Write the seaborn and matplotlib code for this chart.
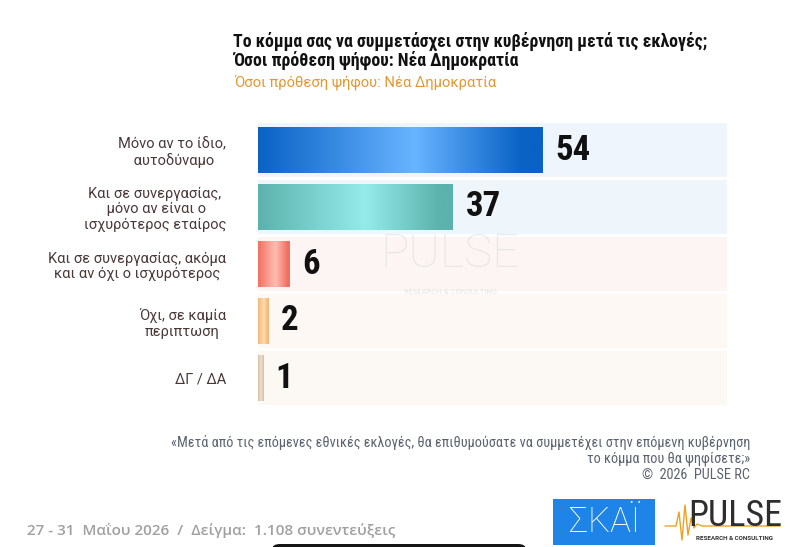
import numpy as np
import pandas as pd
import matplotlib
matplotlib.use("Agg")
import matplotlib.pyplot as plt
import seaborn as sns
from matplotlib import font_manager
from matplotlib.colors import LinearSegmentedColormap
from matplotlib.patches import Rectangle, FancyBboxPatch
from matplotlib.lines import Line2D

# ---------------- data ----------------
categories = [
    "Μόνο αν το ίδιο,\n αυτοδύναμο",
    "Και σε συνεργασίας,\n μόνο αν είναι ο\nισχυρότερος εταίρος",
    "Και σε συνεργασίας, ακόμα\nκαι αν όχι ο ισχυρότερος",
    "Όχι, σε καμία\nπεριπτωση",
    "ΔΓ / ΔΑ",
]
values = [54, 37, 6, 2, 1]
track_value = 89

title_line1 = "Το κόμμα σας να συμμετάσχει στην κυβέρνηση μετά τις εκλογές;"
title_line2 = "Όσοι πρόθεση ψήφου: Νέα Δημοκρατία"
subtitle = "Όσοι πρόθεση ψήφου: Νέα Δημοκρατία"
note_lines = [
    "«Μετά από τις επόμενες εθνικές εκλογές, θα επιθυμούσατε να συμμετέχει στην επόμενη κυβέρνηση",
    "το κόμμα που θα ψηφίσετε;»",
    "©  2026  PULSE RC",
]
footer = "27 - 31  Μαΐου 2026  /  Δείγμα:  1.108 συνεντεύξεις"

# ---------------- styles ----------------
bar_edge_colors = ["#0a62c4", "#5cb2ac", "#f1705f", "#f3b676", "#d4bea6"]
bar_mid_colors = ["#68b4ff", "#95ebea", "#ffbdb3", "#ffdcae", "#efe2d4"]
track_colors = ["#eef5fc", "#eff6fb", "#fdf5f3", "#fdf8f3", "#fcf9f5"]

sns.set_theme(style="white")
available = {f.name for f in font_manager.fontManager.ttflist}


def pick(*names):
    for n in names:
        if n in available:
            return n
    return "DejaVu Sans"


COND = pick("Liberation Sans Narrow", "Roboto Condensed", "Open Sans Condensed", "DejaVu Sans")
REG = pick("Roboto", "Noto Sans", "DejaVu Sans")
OPEN = pick("Open Sans", "Noto Sans", "DejaVu Sans")
plt.rcParams["font.family"] = [REG, "DejaVu Sans"]

W, H = 798, 547
fig = plt.figure(figsize=(W / 100, H / 100), dpi=100, facecolor="white")


def fx(px):
    return px / W


def fy(py):
    return 1 - py / H


ax = fig.add_axes([fx(258), fy(406.5), fx(727) - fx(258), fy(121.5) - fy(406.5)])

df = pd.DataFrame({"cat": categories, "val": values, "track": [track_value] * len(values)})

# background tracks
sns.barplot(data=df, x="track", y="cat", hue="cat", palette=track_colors,
            width=0.95, legend=False, ax=ax, saturation=1, linewidth=0)
n_track = len(ax.patches)
# value bars
sns.barplot(data=df, x="val", y="cat", hue="cat", palette=bar_edge_colors,
            width=0.8, legend=False, ax=ax, saturation=1, linewidth=0)
bar_patches = ax.patches[n_track:]

ax.set_xlim(0, track_value)
ax.set_ylim(len(categories) - 0.5, -0.5)

# gradient fill inside each bar
grad = np.linspace(0, 1, 256)
for p, c0, c1 in zip(bar_patches, bar_edge_colors, bar_mid_colors):
    cmap = LinearSegmentedColormap.from_list(
        "g", [(0, c0), (0.55, c1), (0.93, c0), (1, c0)])
    x0, y0, w, h = p.get_x(), p.get_y(), p.get_width(), p.get_height()
    im = ax.imshow(grad[None, :], cmap=cmap, aspect="auto",
                   extent=(x0, x0 + w, y0 + h, y0), zorder=3, interpolation="bicubic")
    im.set_clip_path(p)
ax.set_xlim(0, track_value)
ax.set_ylim(len(categories) - 0.5, -0.5)

# value labels
for i, v in enumerate(values):
    ax.annotate(str(v), xy=(v, i), xytext=(9, 0), textcoords="offset points",
                ha="left", va="center", fontsize=25, fontweight="bold",
                family=[COND, "DejaVu Sans"], color="#111111", zorder=5)

# axes cosmetics
for s in ax.spines.values():
    s.set_visible(False)
ax.set_xticks([])
ax.set_xlabel("")
ax.set_ylabel("")
ax.tick_params(axis="y", length=0, pad=23)
ax.set_yticks(range(len(categories)))
ax.set_yticklabels(categories, fontsize=10.5, color="#4a3838", multialignment="center",
                   linespacing=1.15)
ax.set_facecolor("none")

# watermark
ax.text(0.41, 0.535, "PULSE", transform=ax.transAxes, fontsize=34, color="#d6d6d6",
        alpha=0.5, ha="center", va="center", family=[REG], fontweight="light", zorder=4)
ax.text(0.41, 0.40, "RESEARCH & CONSULTING", transform=ax.transAxes, fontsize=5.5,
        color="#d6d6d6", alpha=0.6, ha="center", va="center", zorder=4)

# titles
fig.text(fx(233), fy(41), title_line1, fontsize=12.8, fontweight="bold",
         family=[COND, "DejaVu Sans"], color="#111111", va="center", ha="left")
fig.text(fx(233), fy(60), title_line2, fontsize=12.8, fontweight="bold",
         family=[COND, "DejaVu Sans"], color="#111111", va="center", ha="left")
fig.text(fx(234), fy(82), subtitle, fontsize=10.6, family=[REG, "DejaVu Sans"],
         color="#e8952e", va="center", ha="left")

# note
for k, line in enumerate(note_lines):
    fig.text(fx(750), fy(442 + 16.5 * k), line, fontsize=10.3, color="#5a6470",
             family=[COND, "DejaVu Sans"], ha="right", va="center")

# footer
fig.text(fx(27), fy(530), footer, fontsize=11, color="#a0a0a0", fontweight="semibold",
         family=[OPEN, "DejaVu Sans"], ha="left", va="center")

# SKAI logo
fig.patches.append(Rectangle((fx(553), fy(545)), fx(655) - fx(553), fy(499) - fy(545),
                             transform=fig.transFigure, facecolor="#1e84e8", edgecolor="none"))
fig.text(fx(604), fy(522), "ΣΚΑΪ", fontsize=25, color="white", ha="center", va="center",
         family=[REG], fontweight="light")

# PULSE logo
fig.text(fx(735), fy(516), "PULSE", fontsize=26, color="#2e2e2e", ha="center", va="center",
         family=[COND, "DejaVu Sans"])
fig.text(fx(735), fy(538), "RESEARCH & CONSULTING", fontsize=4.5, color="#333333",
         ha="center", va="center", fontweight="bold")
hb_x = [665, 676, 679, 682, 685, 688, 691, 694, 697, 702, 780]
hb_y = [526, 526, 512, 540, 505, 535, 518, 528, 524, 526, 526]
fig.lines.append(Line2D([fx(v) for v in hb_x], [fy(v) for v in hb_y],
                        transform=fig.transFigure, color="#f0a020", linewidth=1.0))

# dark shape at bottom edge
fig.patches.append(FancyBboxPatch((fx(272), fy(552)), fx(526) - fx(272), fy(544) - fy(552),
                                  boxstyle="round,pad=0,rounding_size=0.01",
                                  transform=fig.transFigure, facecolor="#151515",
                                  edgecolor="none"))

fig.savefig("out.png", dpi=100, facecolor="white")
